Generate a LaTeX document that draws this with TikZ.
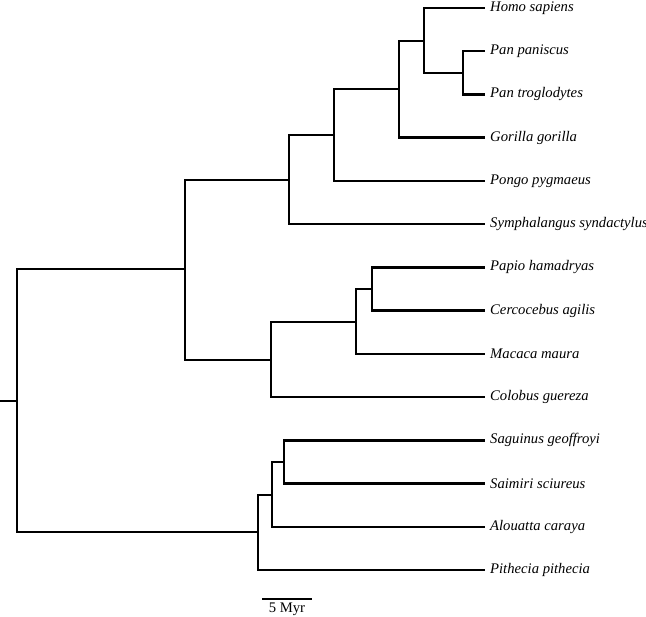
\documentclass[tikz,border=0pt]{standalone}
\usepackage{fontspec}
\setmainfont{Liberation Serif}
\usetikzlibrary{calc}
\begin{document}
\begin{tikzpicture}[x=0.75pt, y=-0.75pt, line width=1.8pt,
    taxon/.style={anchor=west, inner sep=0pt, font=\fontsize{11}{13}\selectfont\itshape},
    scalelabel/.style={anchor=north, inner sep=0pt, font=\fontsize{11}{13}\selectfont}]
    \useasboundingbox (0,0) rectangle (646,617);

    % Internal nodes
    \coordinate (root) at (17,401);
    \coordinate (catar) at (185,269);
    \coordinate (platy) at (258,532);
    \coordinate (hominoid) at (289,180);
    \coordinate (cercop) at (271,360);
    \coordinate (hominid) at (334,135);
    \coordinate (homininae) at (399,89);
    \coordinate (hominini) at (424,41);
    \coordinate (pan) at (463,73);
    \coordinate (papionini) at (356,322);
    \coordinate (papcer) at (372,289);
    \coordinate (sagsaial) at (272,495);
    \coordinate (sagsai) at (284,462);
    \coordinate (stem) at (0,401);

    % Tips and names
    \foreach \tip/\name [count=\i from 0] in {homo/Homo sapiens, panpa/Pan paniscus,
        pantr/Pan troglodytes, gor/Gorilla gorilla, pon/Pongo pygmaeus,
        sym/Symphalangus syndactylus, pap/Papio hamadryas, cer/Cercocebus agilis,
        mac/Macaca maura, col/Colobus guereza, sag/Saguinus geoffroyi,
        sai/Saimiri sciureus, alo/Alouatta caraya, pit/Pithecia pithecia}
    {
        \coordinate (\tip) at (485, 8+43.23*\i);
        \node[taxon] (\tip-name) at ([xshift=3pt]\tip) {\name};
    }

    % Branches
    \draw (stem) -- (root);
    \foreach \p/\c in {root/catar, root/platy, catar/hominoid, catar/cercop,
        hominoid/hominid, hominoid/sym, hominid/homininae, hominid/pon,
        homininae/hominini, homininae/gor, hominini/homo, hominini/pan,
        pan/panpa, pan/pantr, cercop/papionini, cercop/col,
        papionini/papcer, papionini/mac, papcer/pap, papcer/cer,
        platy/sagsaial, platy/pit, sagsaial/sagsai, sagsaial/alo,
        sagsai/sag, sagsai/sai}
        \draw (\p) |- (\c);

    % Scale bar
    \coordinate (sbl) at (262,599);
    \coordinate (sbr) at (312,599);
    \draw (sbl) -- (sbr);
    \node[scalelabel] (sblabel) at ([yshift=-2pt]$(sbl)!0.5!(sbr)$) {5 Myr};
\end{tikzpicture}
\end{document}
